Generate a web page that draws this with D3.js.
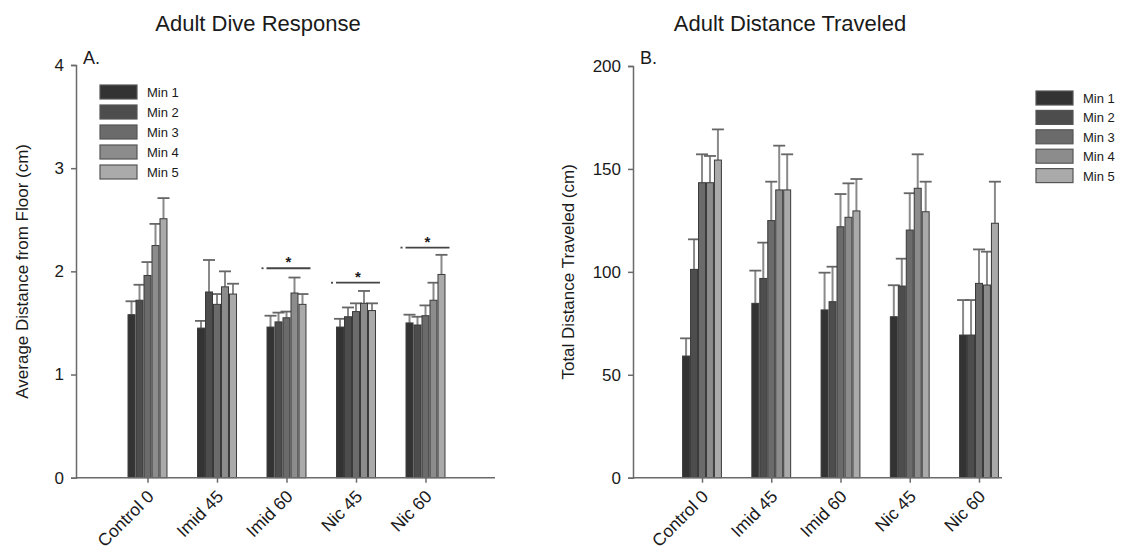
<!DOCTYPE html>
<html lang="en">
    <head>
        <meta charset="utf-8">
        <title>Adult Dive Response / Distance Traveled</title>
        <script type="text/javascript" src="https://d3js.org/d3.v7.min.js"></script>
        <style type="text/css">
            body { margin: 0; background: #fff; }
            text { font-family: "Liberation Sans", Arial, sans-serif; fill: #1a1a1a; }
            .legend text { font-family: "Liberation Sans Narrow", "Liberation Sans", Arial, sans-serif; }
        </style>
    </head>
    <body>
        <script type="text/javascript">

        // categories and series
        const groups = ["Control 0", "Imid 45", "Imid 60", "Nic 45", "Nic 60"];
        const series = ["Min 1", "Min 2", "Min 3", "Min 4", "Min 5"];
        const colors = ["#333333", "#4d4d4d", "#6b6b6b", "#8c8c8c", "#aaaaaa"];

        // A. average distance from floor (cm), rows = group, cols = minute
        const diveMean = [
            [1.58, 1.72, 1.96, 2.25, 2.51],
            [1.45, 1.80, 1.68, 1.85, 1.78],
            [1.46, 1.51, 1.55, 1.79, 1.68],
            [1.46, 1.56, 1.61, 1.69, 1.62],
            [1.50, 1.48, 1.57, 1.72, 1.97]
        ];
        const diveErr = [
            [0.13, 0.15, 0.13, 0.21, 0.20],
            [0.07, 0.31, 0.10, 0.15, 0.10],
            [0.11, 0.09, 0.06, 0.15, 0.10],
            [0.08, 0.09, 0.08, 0.12, 0.07],
            [0.08, 0.08, 0.10, 0.17, 0.19]
        ];
        const diveTicks = [0, 1, 2, 3, 4];
        // significance brackets on panel A
        const sigGroups = ["Imid 60", "Nic 45", "Nic 60"];
        const sigLevel = [2.03, 1.89, 2.23];

        // B. total distance traveled (cm)
        const distMean = [
            [59.1, 101.2, 143.3, 143.3, 154.3],
            [84.7, 96.8, 124.9, 139.8, 139.8],
            [81.5, 85.5, 121.9, 126.5, 129.6],
            [78.2, 93.1, 120.3, 140.6, 129.2],
            [69.3, 69.3, 94.4, 93.6, 123.6]
        ];
        const distErr = [
            [8.6, 14.6, 13.8, 13.0, 14.9],
            [15.9, 17.4, 18.9, 21.5, 17.3],
            [18.1, 17.0, 15.9, 16.5, 15.5],
            [15.3, 13.3, 17.9, 16.5, 14.6],
            [17.0, 17.0, 16.5, 16.2, 20.2]
        ];
        const distTicks = [0, 50, 100, 150, 200];

        const width = 1126;
        const height = 558;

        const svg = d3.select("body")
                    .append("svg")
                    .attr("width", width)
                    .attr("height", height)
                    .style("background-color", "#ffffff");

        function panel(opt) {
            const g = svg.append("g");

            const yScale = d3.scaleLinear()
                            .domain(opt.domain)
                            .range([opt.bottom, opt.top]);

            const xScale = d3.scalePoint()
                            .domain(groups)
                            .range([opt.firstX, opt.lastX]);

            const groupW = xScale.step() * 0.575;
            const xSub = d3.scaleBand()
                            .domain(series)
                            .range([-groupW / 2, groupW / 2]);

            // bars
            const rows = [];
            opt.mean.forEach((row, gi) => row.forEach((v, si) => {
                rows.push({group: groups[gi], s: series[si], si: si, v: v, e: opt.err[gi][si]});
            }));

            // error bars first so the bar outline sits on top
            const eb = g.selectAll(".err")
                .data(rows)
                .enter()
                .append("g")
                .attr("class", "err");
            eb.append("line")
                .attr("x1", d => xScale(d.group) + xSub(d.s) + xSub.bandwidth() / 2)
                .attr("x2", d => xScale(d.group) + xSub(d.s) + xSub.bandwidth() / 2)
                .attr("y1", d => yScale(d.v))
                .attr("y2", d => yScale(d.v + d.e))
                .attr("stroke", "#8a8a8a")
                .attr("stroke-width", 2);
            eb.append("line")
                .attr("x1", d => xScale(d.group) + xSub(d.s) + xSub.bandwidth() / 2 - 6)
                .attr("x2", d => xScale(d.group) + xSub(d.s) + xSub.bandwidth() / 2 + 6)
                .attr("y1", d => yScale(d.v + d.e))
                .attr("y2", d => yScale(d.v + d.e))
                .attr("stroke", "#666")
                .attr("stroke-width", 1.8);

            g.selectAll(".bar")
                .data(rows)
                .enter()
                .append("rect")
                .attr("class", "bar")
                .attr("x", d => xScale(d.group) + xSub(d.s) + 0.5)
                .attr("y", d => yScale(d.v))
                .attr("width", xSub.bandwidth() - 1)
                .attr("height", d => yScale(0) - yScale(d.v))
                .attr("fill", d => colors[d.si])
                .attr("stroke", "#3a3a3a")
                .attr("stroke-width", 1);

            // left axis
            const leftAxis = d3.axisLeft(yScale)
                            .tickValues(opt.ticks)
                            .tickFormat(d3.format("d"))
                            .tickSize(5)
                            .tickPadding(7);
            const ya = g.append("g")
                .attr("transform", "translate(" + opt.left + ",0)")
                .call(leftAxis);
            ya.selectAll("path, line").attr("stroke", "#6a6a6a").attr("stroke-width", 1.5);
            ya.selectAll("text").style("font-size", "17px").style("fill", "#1a1a1a");

            // bottom axis
            const bottomAxis = d3.axisBottom(xScale).tickSize(5).tickSizeOuter(0);
            const xa = g.append("g")
                .attr("transform", "translate(0," + opt.bottom + ")")
                .call(bottomAxis);
            xa.select(".domain").remove();
            xa.selectAll("line").attr("stroke", "#6a6a6a").attr("stroke-width", 1.5);
            xa.selectAll("text")
                .attr("y", 0)
                .attr("x", 0)
                .attr("dy", 0)
                .attr("transform", "translate(7,20) rotate(-45)")
                .style("text-anchor", "end")
                .style("font-size", "17.5px")
                .style("fill", "#1a1a1a");
            g.append("line")
                .attr("x1", opt.left)
                .attr("x2", opt.right)
                .attr("y1", opt.bottom)
                .attr("y2", opt.bottom)
                .attr("stroke", "#6a6a6a")
                .attr("stroke-width", 1.5);

            // title, panel letter, axis label
            g.append("text")
                .attr("x", opt.titleX)
                .attr("y", 31)
                .attr("text-anchor", "middle")
                .style("font-size", "22px")
                .text(opt.title);
            g.append("text")
                .attr("x", opt.left + 7)
                .attr("y", 64)
                .style("font-size", "18px")
                .text(opt.letter);
            g.append("text")
                .attr("transform", "translate(" + opt.labelX + "," + ((opt.top + opt.bottom) / 2) + ") rotate(-90)")
                .attr("text-anchor", "middle")
                .style("font-size", "17px")
                .text(opt.ylabel);

            // legend
            const lg = g.append("g").attr("class", "legend");
            series.forEach((s, i) => {
                lg.append("rect")
                    .attr("x", opt.legX)
                    .attr("y", opt.legY + i * opt.legStep)
                    .attr("width", 37)
                    .attr("height", 14)
                    .attr("fill", colors[i])
                    .attr("stroke", "#555")
                    .attr("stroke-width", 1.2);
                lg.append("text")
                    .attr("x", opt.legX + 47)
                    .attr("y", opt.legY + i * opt.legStep + 12)
                    .style("font-size", "13px")
                    .text(s);
            });

            return {g: g, x: xScale, y: yScale, groupW: groupW};
        }

        const A = panel({
            domain: [0, 4], ticks: diveTicks, mean: diveMean, err: diveErr,
            top: 65, bottom: 477.7, left: 76, right: 495,
            firstX: 147.5, lastX: 425.5,
            title: "Adult Dive Response", titleX: 258, letter: "A.",
            ylabel: "Average Distance from Floor (cm)", labelX: 28,
            legX: 100, legY: 85, legStep: 20
        });

        panel({
            domain: [0, 200], ticks: distTicks, mean: distMean, err: distErr,
            top: 66, bottom: 477.7, left: 633, right: 1002,
            firstX: 702, lastX: 979,
            title: "Adult Distance Traveled", titleX: 790, letter: "B.",
            ylabel: "Total Distance Traveled (cm)", labelX: 574,
            legX: 1036, legY: 91, legStep: 19.4
        });

        // significance marks on panel A
        sigGroups.forEach((name, i) => {
            const cx = A.x(name);
            const yy = A.y(sigLevel[i]);
            A.g.append("line")
                .attr("x1", cx - A.groupW / 2)
                .attr("x2", cx + A.groupW / 2 + 4)
                .attr("y1", yy)
                .attr("y2", yy)
                .attr("stroke", "#444")
                .attr("stroke-width", 1.8);
            A.g.append("line")
                .attr("x1", cx - A.groupW / 2 - 5)
                .attr("x2", cx - A.groupW / 2 - 3)
                .attr("y1", yy)
                .attr("y2", yy)
                .attr("stroke", "#444")
                .attr("stroke-width", 1.8);
            A.g.append("text")
                .attr("x", cx + 2)
                .attr("y", yy - 1)
                .attr("text-anchor", "middle")
                .style("font-size", "15px")
                .style("font-weight", "bold")
                .text("*");
        });

        </script>
    </body>
</html>
